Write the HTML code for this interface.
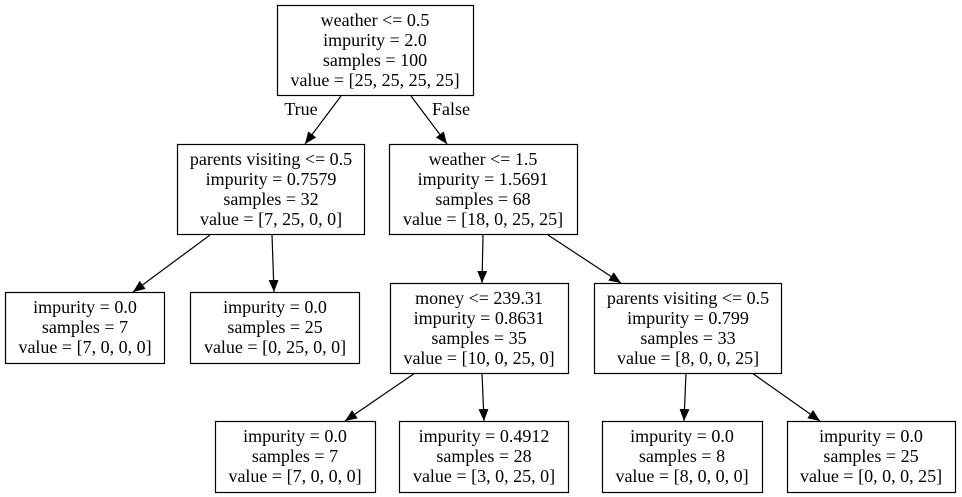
<!DOCTYPE html>
<html><head><meta charset="utf-8"><style>
html,body{margin:0;padding:0;background:#fff;}
svg{display:block}
text{font-family:"Liberation Serif",serif;font-size:18px;fill:#000;text-anchor:middle}
rect{fill:#fff;stroke:#000;stroke-width:1.2}
line{stroke:#000;stroke-width:1.2}
</style></head><body>
<svg width="962" height="497" viewBox="0 0 962 497">
<defs><marker id="a" viewBox="0 0 12 10" refX="12" refY="5" markerWidth="12" markerHeight="10" markerUnits="userSpaceOnUse" orient="auto"><path d="M0,0L12,5L0,10z" fill="#000"/></marker></defs>
<g>
<line x1="341" y1="96" x2="305" y2="144" marker-end="url(#a)"/>
<line x1="411" y1="96" x2="447" y2="144" marker-end="url(#a)"/>
<line x1="210" y1="235" x2="133" y2="292" marker-end="url(#a)"/>
<line x1="272" y1="235" x2="274" y2="292" marker-end="url(#a)"/>
<line x1="483" y1="235" x2="482" y2="283" marker-end="url(#a)"/>
<line x1="548" y1="235" x2="621" y2="283" marker-end="url(#a)"/>
<line x1="415" y1="373" x2="345" y2="421" marker-end="url(#a)"/>
<line x1="482" y1="373" x2="484" y2="421" marker-end="url(#a)"/>
<line x1="686" y1="373" x2="684" y2="421" marker-end="url(#a)"/>
<line x1="752" y1="373" x2="820" y2="421" marker-end="url(#a)"/>
</g>
<text x="301" y="115">True</text>
<text x="451" y="115">False</text>

<rect x="277.5" y="5.5" width="196" height="90"/>
<text x="375" y="26">weather &lt;= 0.5</text>
<text x="375" y="46">impurity = 2.0</text>
<text x="375" y="66">samples = 100</text>
<text x="375" y="86">value = [25, 25, 25, 25]</text>

<rect x="177.5" y="144.5" width="187" height="90"/>
<text x="271" y="165">parents visiting &lt;= 0.5</text>
<text x="271" y="185">impurity = 0.7579</text>
<text x="271" y="205">samples = 32</text>
<text x="271" y="225">value = [7, 25, 0, 0]</text>

<rect x="389.5" y="144.5" width="188" height="90"/>
<text x="483" y="165">weather &lt;= 1.5</text>
<text x="483" y="185">impurity = 1.5691</text>
<text x="483" y="205">samples = 68</text>
<text x="483" y="225">value = [18, 0, 25, 25]</text>

<rect x="5.5" y="292.5" width="159" height="71"/>
<text x="85" y="313">impurity = 0.0</text>
<text x="85" y="333">samples = 7</text>
<text x="85" y="353">value = [7, 0, 0, 0]</text>

<rect x="190.5" y="292.5" width="169" height="71"/>
<text x="275" y="313">impurity = 0.0</text>
<text x="275" y="333">samples = 25</text>
<text x="275" y="353">value = [0, 25, 0, 0]</text>

<rect x="390.5" y="283.5" width="178" height="90"/>
<text x="479" y="304">money &lt;= 239.31</text>
<text x="479" y="324">impurity = 0.8631</text>
<text x="479" y="344">samples = 35</text>
<text x="479" y="364">value = [10, 0, 25, 0]</text>

<rect x="594.5" y="283.5" width="187" height="90"/>
<text x="688" y="304">parents visiting &lt;= 0.5</text>
<text x="688" y="324">impurity = 0.799</text>
<text x="688" y="344">samples = 33</text>
<text x="688" y="364">value = [8, 0, 0, 25]</text>

<rect x="215.5" y="421.5" width="160" height="71"/>
<text x="295" y="442">impurity = 0.0</text>
<text x="295" y="462">samples = 7</text>
<text x="295" y="482">value = [7, 0, 0, 0]</text>

<rect x="399.5" y="421.5" width="169" height="71"/>
<text x="484" y="442">impurity = 0.4912</text>
<text x="484" y="462">samples = 28</text>
<text x="484" y="482">value = [3, 0, 25, 0]</text>

<rect x="602.5" y="421.5" width="160" height="71"/>
<text x="682" y="442">impurity = 0.0</text>
<text x="682" y="462">samples = 8</text>
<text x="682" y="482">value = [8, 0, 0, 0]</text>

<rect x="787.5" y="421.5" width="168" height="71"/>
<text x="871" y="442">impurity = 0.0</text>
<text x="871" y="462">samples = 25</text>
<text x="871" y="482">value = [0, 0, 0, 25]</text>
</svg>
</body></html>
